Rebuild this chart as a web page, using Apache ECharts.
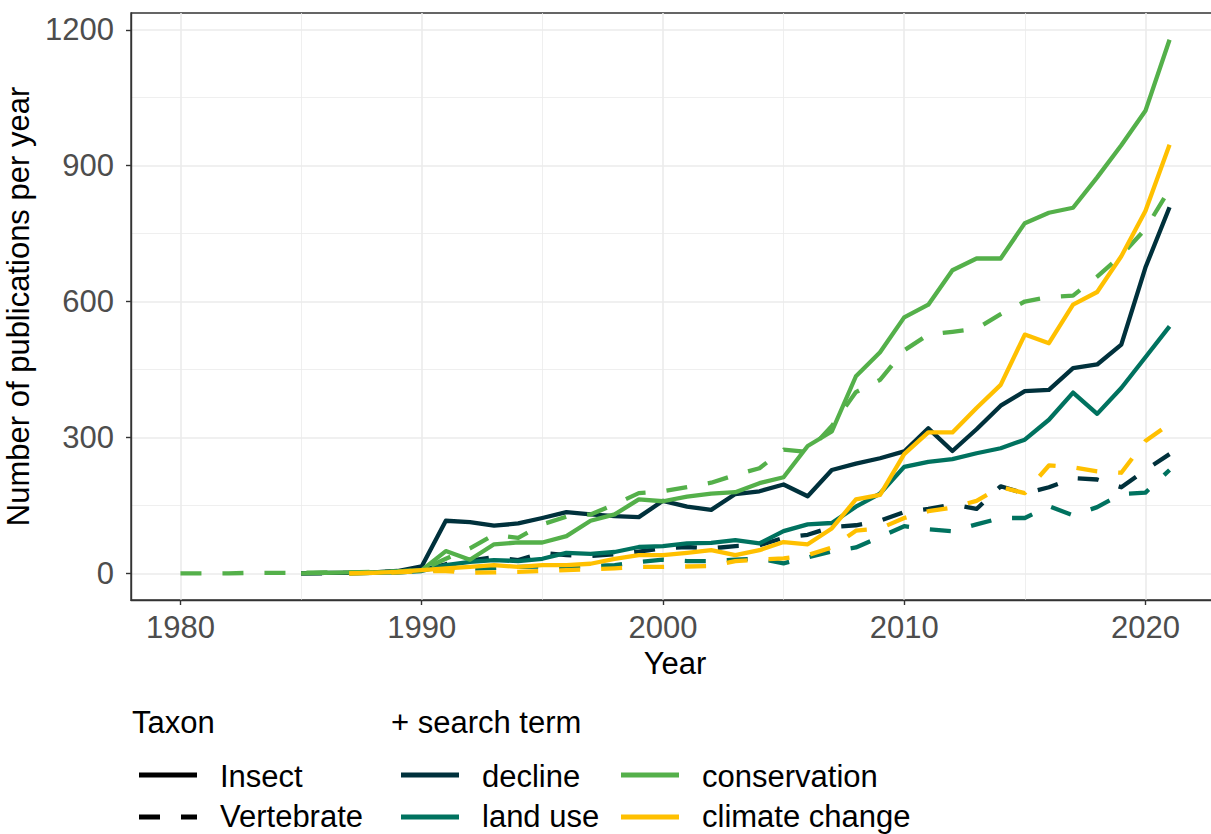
<!DOCTYPE html>
<html>
<head>
<meta charset="utf-8">
<script src="https://cdn.jsdelivr.net/npm/echarts@6/dist/echarts.min.js"></script>
<style>
html,body{margin:0;padding:0;background:#fff;}
#chart{width:1211px;height:834px;}
</style>
</head>
<body>
<div id="chart"></div>
<script>
// ---- data ----
const years = [];
for (let y = 1980; y <= 2021; y++) years.push(y);

const insectDecline = [null,null,null,null,null,0,1,1,2,5,
  15,116,113,105,110,122,135,130,126,124,
  160,147,140,175,181,196,170,228,242,254,
  269,320,270,318,370,402,405,453,461,505,675,808];
const vertDecline = [null,null,null,null,null,0,0,1,2,4,
  7,20,28,36,29,45,40,38,42,48,
  55,58,55,60,62,78,85,102,106,116,
  135,142,152,142,192,176,190,210,207,190,228,263];
const insectLand = [null,null,null,null,null,null,null,0,1,2,
  5,18,25,29,27,32,45,43,47,58,
  60,66,67,73,66,93,108,111,147,176,
  235,246,252,265,276,295,339,399,352,409,477,545];
const vertLand = [null,null,null,null,null,null,null,0,1,2,
  5,8,10,12,14,15,14,16,18,25,
  30,27,27,30,32,22,35,48,57,80,
  104,97,93,108,122,122,148,128,146,175,178,228];
const insectCons = [null,null,null,null,null,0,1,2,2,4,
  7,49,30,64,68,68,82,116,130,163,
  159,169,176,179,199,212,281,313,435,488,
  565,593,669,695,695,773,796,807,874,945,1021,1178];
const vertCons = [0,0,0,1,1,1,2,2,3,4,
  7,32,55,85,78,108,125,130,152,177,
  181,190,200,217,232,273,268,325,400,427,
  492,527,533,540,572,600,610,613,655,702,760,848];
const insectClim = [null,null,null,null,null,null,null,0,1,3,
  7,11,14,18,14,18,18,21,32,40,
  40,45,51,40,51,69,64,99,163,173,
  263,311,311,365,416,527,508,593,621,700,800,946];
const vertClim = [null,null,null,null,null,null,null,0,1,2,
  5,5,1,2,3,5,7,9,11,14,
  14,15,16,27,30,33,40,57,94,99,
  122,137,145,160,190,177,238,234,225,222,292,330];

const xTicks = [1980, 1990, 2000, 2010, 2020];
const xMinor = [1985, 1995, 2005, 2015];
const yTicks = [0, 300, 600, 900, 1200];
const yMinor = [150, 450, 750, 1050];

const terms = ['decline', 'land use', 'conservation', 'climate change'];
const taxa = ['Insect', 'Vertebrate'];
const termColors = {'decline':'#00313C','land use':'#00725F','conservation':'#54B04A','climate change':'#FFC000'};

// ---- build ----
const FONT = '"Liberation Sans", Arial, Helvetica, sans-serif';
const DASH = [21, 21];
function pairs(vals){ const out=[]; vals.forEach((v,i)=>{ if(v!==null) out.push([years[i], v]); }); return out; }

const seriesDefs = [
  ['decline','Insect',insectDecline],['decline','Vertebrate',vertDecline],
  ['land use','Insect',insectLand],['land use','Vertebrate',vertLand],
  ['conservation','Insect',insectCons],['conservation','Vertebrate',vertCons],
  ['climate change','Insect',insectClim],['climate change','Vertebrate',vertClim]
];

const series = [];
// grid lines
const gridLines = [];
xTicks.forEach(v=>gridLines.push({xAxis:v, lineStyle:{width:1.6}}));
xMinor.forEach(v=>gridLines.push({xAxis:v, lineStyle:{width:0.8}}));
yTicks.forEach(v=>gridLines.push({yAxis:v, lineStyle:{width:1.6}}));
yMinor.forEach(v=>gridLines.push({yAxis:v, lineStyle:{width:0.8}}));
series.push({
  type:'line', data:[], z:1, silent:true,
  markLine:{ silent:true, z:1, symbol:['none','none'], animation:false,
    label:{show:false}, lineStyle:{color:'#EBEBEB', type:'solid'}, data:gridLines }
});
seriesDefs.forEach(([term, taxon, vals])=>{
  series.push({
    name: term + ' / ' + taxon, type:'line', data: pairs(vals), z:2,
    showSymbol:false, symbol:'none', animation:false, smooth:false,
    lineStyle:{ color: termColors[term], width:4.3, type: taxon==='Insect' ? 'solid' : DASH, cap:'butt', join:'round' }
  });
});

// legend as graphic
const graphics = [];
function txt(x,y,s){ graphics.push({type:'text', x:x, y:y, style:{text:s, font:'31px '+FONT, fill:'#000', verticalAlign:'middle', align:'left'}}); }
function key(x1,x2,y,color,dash){ graphics.push({type:'line', shape:{x1:x1,y1:y,x2:x2,y2:y}, style:{stroke:color, lineWidth:5, lineDash: dash||null, lineCap:'butt'}}); }
txt(132, 722, 'Taxon');
txt(391, 722, '+ search term');
key(139, 197, 775, '#000');
txt(220, 776, taxa[0]);
key(139, 197, 817, '#000', DASH);
txt(220, 816, taxa[1]);
key(401, 459, 775, termColors[terms[0]]);
txt(482, 776, terms[0]);
key(401, 459, 817, termColors[terms[1]]);
txt(482, 816, terms[1]);
key(621, 679, 775, termColors[terms[2]]);
txt(702, 776, terms[2]);
key(621, 679, 817, termColors[terms[3]]);
txt(702, 816, terms[3]);

const plain = v => String(Math.round(v));

const chart = echarts.init(document.getElementById('chart'), null, {renderer:'svg', width:1211, height:834});
chart.setOption({
  animation:false,
  backgroundColor:'#fff',
  grid:{ left:131, top:13, width:1088, height:587, show:true, borderColor:'#333', borderWidth:1.4,
         backgroundColor:'transparent', containLabel:false, outerBoundsMode:'none' },
  xAxis:{
    type:'value', min:1977.95, max:2023.05, z:10,
    name:'Year', nameLocation:'middle', nameGap:45,
    nameTextStyle:{ fontSize:31, color:'#000', fontFamily:FONT },
    axisLine:{ show:true, onZero:false, lineStyle:{color:'#333', width:1.4} },
    axisTick:{ show:true, length:5, customValues:xTicks, lineStyle:{color:'#333', width:1.4} },
    axisLabel:{ show:true, customValues:xTicks, formatter:plain, fontSize:31, color:'#4D4D4D', fontFamily:FONT, margin:12 },
    splitLine:{ show:false }, minorSplitLine:{show:false}
  },
  yAxis:{
    type:'value', min:-59, max:1237, z:10,
    name:'Number of publications per year', nameLocation:'middle', nameGap:88,
    nameTextStyle:{ fontSize:31, color:'#000', fontFamily:FONT },
    axisLine:{ show:true, onZero:false, lineStyle:{color:'#333', width:1.4} },
    axisTick:{ show:true, length:5, customValues:yTicks, lineStyle:{color:'#333', width:1.4} },
    axisLabel:{ show:true, customValues:yTicks, formatter:plain, fontSize:31, color:'#4D4D4D', fontFamily:FONT, margin:17 },
    splitLine:{ show:false }, minorSplitLine:{show:false}
  },
  series: series,
  graphic: graphics
});
</script>
</body>
</html>
